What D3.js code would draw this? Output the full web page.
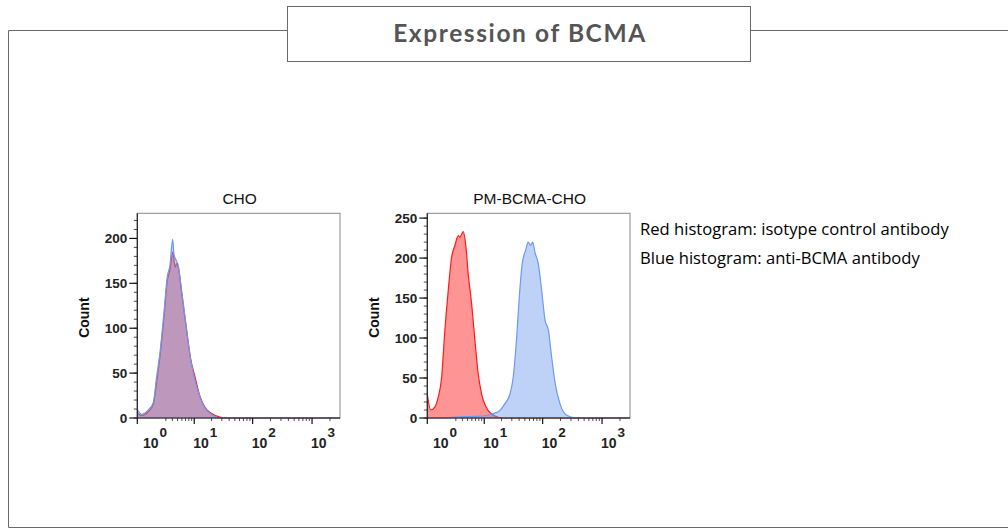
<!DOCTYPE html>
<html>
<head>
<meta charset="utf-8">
<script src="https://cdn.jsdelivr.net/npm/d3@7"></script>
<style>
  body { margin: 0; background: #fff; }
  svg { display: block; }
</style>
</head>
<body>
<svg id="chart" width="1008" height="529"></svg>
<script>
// panel titles and axis settings
const panelTitles = ['CHO', 'PM-BCMA-CHO'];
const yMaxes = [228, 256];
const yTickSets = [[0, 50, 100, 150, 200], [0, 50, 100, 150, 200, 250]];
const xMajorTicks = [1, 10, 100, 1000];
const xTickExponents = ['0', '1', '2', '3'];
const legendLines = ['Red histogram: isotype control antibody', 'Blue histogram: anti-BCMA antibody'];

// CHO - isotype (red)
const choRedX = [0.67, 0.87, 1.27, 1.65, 1.95, 2.28, 2.75, 3.19, 3.6, 4.1, 4.5, 4.8, 5.15, 5.94, 7.11, 8.63, 10.3, 12.6, 15.4, 20.1, 27.9, 36, 2947];
const choRedCount = [5, 3, 7, 15, 40, 68, 112, 152, 165, 185, 168, 172, 168, 140, 103, 66, 46, 24, 12, 5, 1, 0, 0];
// CHO - anti-BCMA (blue)
const choBlueX = [0.67, 0.87, 1.27, 1.65, 1.95, 2.28, 2.75, 3.19, 3.6, 4.05, 4.3, 4.7, 5.15, 5.94, 7.11, 8.63, 10.3, 12.6, 15.4, 20.1, 27.9, 2947];
const choBlueCount = [9, 4, 9, 17, 46, 72, 117, 157, 170, 199, 182, 176, 170, 142, 105, 65, 42, 24, 11, 4, 0, 0];

// PM-BCMA-CHO - isotype (red)
const bcmaRedX = [0.67, 0.82, 1.06, 1.27, 1.52, 1.79, 2.11, 2.47, 2.88, 3.34, 3.6, 4.15, 4.67, 5.15, 5.94, 6.82, 7.82, 8.99, 10.7, 13.5, 17.5, 21.1, 2947];
const bcmaRedCount = [28, 10, 14, 26, 51, 110, 160, 201, 216, 228, 226, 233, 214, 180, 143, 97, 55, 30, 14, 5, 1, 0, 0];
// PM-BCMA-CHO - anti-BCMA (blue)
const bcmaBlueX = [0.67, 1.5, 3.6, 7.3, 11.0, 14.4, 18.8, 22.9, 27.9, 31.7, 36.3, 40.2, 45.1, 51.6, 57.1, 62.7, 67.8, 74.2, 84.4, 96.2, 110, 125, 142, 163, 196, 254, 375, 2947];
const bcmaBlueCount = [0, 0, 1.5, 2, 3.4, 5.5, 9.6, 18, 30, 51, 101, 151, 193, 210, 220, 216, 220, 207, 193, 160, 122, 110, 76, 43, 18, 3.4, 0, 0];

const panels = [
    { left: 137.3, red: [choRedX, choRedCount], blue: [choBlueX, choBlueCount] },
    { left: 427.3, red: [bcmaRedX, bcmaRedCount], blue: [bcmaBlueX, bcmaBlueCount] }
];
const panelW = 202.7, plotTop = 213.3, plotBottom = 418;

const svg = d3.select('#chart');

// outer frame + title box
const frame = svg.append('g').style('stroke', '#6b6b6b').style('fill', 'none').style('stroke-width', '1px');
frame.append('path').attr('d', 'M287,30.5H8.5V527.5H1010');
frame.append('path').attr('d', 'M751,30.5H1010');
frame.append('rect').attr('x', 287.5).attr('y', 6.5).attr('width', 463).attr('height', 55).style('fill', '#fff');
svg.append('text')
    .attr('x', 520).attr('y', 42)
    .attr('text-anchor', 'middle')
    .text('Expression of BCMA')
    .style('font-family', 'Lato, sans-serif')
    .style('font-weight', '700')
    .style('font-size', '24.5px')
    .style('letter-spacing', '1.6px')
    .style('fill', '#555');

// legend
legendLines.forEach((t, i) => {
    svg.append('text')
        .attr('x', 640).attr('y', 235 + i * 29)
        .text(t)
        .style('font-family', '"Open Sans", sans-serif')
        .style('font-size', '16.6px')
        .style('fill', '#000');
});

const boldFont = '"Liberation Sans", Arial, sans-serif';

panels.forEach((p, pi) => {
    const x = d3.scaleSymlog().constant(0.5).domain([0.66, 2950]).range([p.left, p.left + panelW]);
    const y = d3.scaleLinear().domain([0, yMaxes[pi]]).range([plotBottom, plotTop]);
    const g = svg.append('g');

    g.append('text')
        .attr('x', p.left + panelW / 2 + 1).attr('y', 204)
        .attr('text-anchor', 'middle')
        .text(panelTitles[pi])
        .style('font-family', boldFont)
        .style('font-size', '15.5px')
        .style('fill', '#111');

    const area = d3.area().x(d => x(d[0])).y0(y(0)).y1(d => y(d[1])).curve(d3.curveMonotoneX);
    const line = d3.line().x(d => x(d[0])).y(d => y(d[1])).curve(d3.curveMonotoneX);

    [['red', '#ff0000', '#ff1a1a'], ['blue', '#6f9bf0', '#6d99ee']].forEach(([key, fill, stroke]) => {
        const pts = p[key][0].map((v, i) => [v, p[key][1][i]]);
        g.append('path').attr('d', area(pts))
            .style('fill', fill).style('fill-opacity', key === 'red' ? 0.42 : 0.45).style('stroke', 'none');
        g.append('path').attr('d', line(pts))
            .style('fill', 'none').style('stroke', stroke).style('stroke-width', '1.2px');
    });

    // plot box
    g.append('rect')
        .attr('x', p.left).attr('y', plotTop).attr('width', panelW).attr('height', plotBottom - plotTop)
        .style('fill', 'none').style('stroke', '#8a8a8a').style('stroke-width', '1px');

    // y axis
    const yMinor = d3.range(0, yMaxes[pi], 10);
    g.selectAll('.ymin').data(yMinor).enter().append('line')
        .attr('x1', p.left - 3.5).attr('x2', p.left)
        .attr('y1', d => y(d)).attr('y2', d => y(d))
        .style('stroke', '#222').style('stroke-width', '0.8px');
    g.selectAll('.ymaj').data(yTickSets[pi]).enter().append('line')
        .attr('x1', p.left - 8).attr('x2', p.left)
        .attr('y1', d => y(d)).attr('y2', d => y(d))
        .style('stroke', '#111').style('stroke-width', '1.2px');
    g.selectAll('.ylab').data(yTickSets[pi]).enter().append('text')
        .attr('x', p.left - 10).attr('y', d => y(d) + 5)
        .attr('text-anchor', 'end')
        .text(d => d)
        .style('font-family', boldFont)
        .style('font-weight', '700')
        .style('font-size', '13.5px')
        .style('fill', '#222');
    g.append('line').attr('x1', p.left).attr('x2', p.left).attr('y1', plotTop).attr('y2', plotBottom)
        .style('stroke', '#222').style('stroke-width', '1.2px');
    g.append('text')
        .attr('transform', 'translate(' + (p.left - 48) + ',' + ((plotTop + plotBottom) / 2 + 2) + ') rotate(-90)')
        .attr('text-anchor', 'middle')
        .text('Count')
        .style('font-family', boldFont)
        .style('font-weight', '700')
        .style('font-size', '14px')
        .style('fill', '#111');

    // x axis
    g.append('line').attr('x1', p.left).attr('x2', p.left + panelW).attr('y1', plotBottom).attr('y2', plotBottom)
        .style('stroke', '#222').style('stroke-width', '1.2px');
    const xMinor = [];
    [1, 10, 100, 1000].forEach(dec => {
        for (let m = 2; m <= 9; m++) {
            const v = m * dec;
            if (v >= 3 && v <= 2950) xMinor.push(v);
        }
    });
    g.selectAll('.xmin').data(xMinor).enter().append('line')
        .attr('x1', d => x(d)).attr('x2', d => x(d))
        .attr('y1', plotBottom).attr('y2', plotBottom + 3)
        .style('stroke', '#222').style('stroke-width', '0.8px');
    g.selectAll('.xmaj').data([0.66, 10, 100, 1000]).enter().append('line')
        .attr('x1', d => x(d)).attr('x2', d => x(d))
        .attr('y1', plotBottom).attr('y2', plotBottom + 6)
        .style('stroke', '#111').style('stroke-width', '1.2px');
    const labs = g.selectAll('.xlab').data(xMajorTicks).enter().append('text')
        .attr('x', d => x(d) - 1).attr('y', 448)
        .style('font-family', boldFont)
        .style('font-weight', '700')
        .style('font-size', '14px')
        .style('fill', '#222');
    labs.append('tspan').text('10');
    labs.append('tspan').attr('dy', -11).attr('dx', 1).style('font-size', '13.5px').text((d, i) => xTickExponents[i]);
});
</script>
</body>
</html>
